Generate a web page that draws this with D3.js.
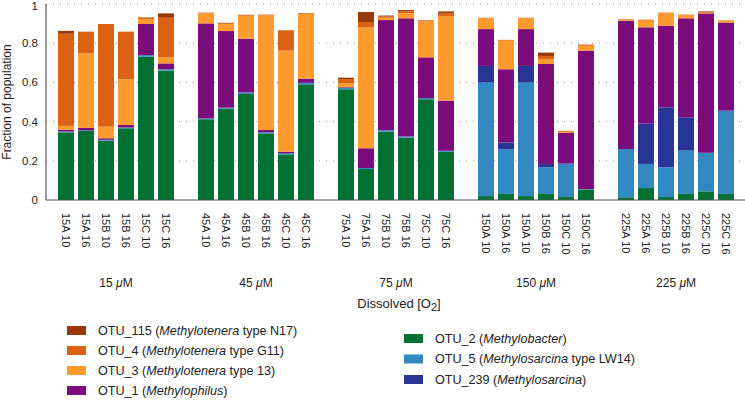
<!DOCTYPE html>
<html>
<head>
<meta charset="utf-8">
<script src="https://cdn.jsdelivr.net/npm/d3@7"></script>
<style>
  html, body { margin: 0; padding: 0; background: #fff; }
  svg { display: block; font-family: "Liberation Sans", Arial, Helvetica, sans-serif; }
</style>
</head>
<body>
<svg id="chart" width="745" height="400"></svg>
<script>
// ---------------- data ----------------
const categories = [
  "15A 10","15A 16","15B 10","15B 16","15C 10","15C 16",
  "45A 10","45A 16","45B 10","45B 16","45C 10","45C 16",
  "75A 10","75A 16","75B 10","75B 16","75C 10","75C 16",
  "150A 10","150A 16","150A 10","150B 16","150C 10","150C 16",
  "225A 10","225A 16","225B 10","225B 16","225C 10","225C 16"
];
const categoryGroup = [
  0,0,0,0,0,0, 1,1,1,1,1,1, 2,2,2,2,2,2, 3,3,3,3,3,3, 4,4,4,4,4,4
];
const groupNames = ["15", "45", "75", "150", "225"];

// stacked bottom -> top
const otu2   = [.345,.352,.303,.366,.731,.660, .412,.466,.541,.340,.233,.590, .565,.158,.349,.318,.514,.246, .020,.031,.020,.031,.015,.054, .014,.061,.015,.031,.044,.031];
const otu5   = [.005,.004,.004,.004,.008,.007, .005,.005,.008,.006,.006,.008, .008,.005,.007,.006,.006,.005, .579,.228,.579,.136,.169,.002, .246,.123,.152,.221,.197,.425];
const otu239 = [0,0,0,0,0,0, 0,0,0,0,0,0, 0,0,0,0,0,0, .085,.034,.085,.017,.002,0, 0,.207,.306,.170,0,0];
const otu1   = [.008,.012,.008,.013,.159,.030, .484,.391,.274,.011,.007,.021, .003,.101,.562,.603,.208,.256, .188,.374,.188,.510,.157,.706, .655,.490,.416,.505,.711,.449];
const otu3   = [.020,.380,.059,.233,.024,.031, .051,.036,.117,.585,.516,.330, .019,.617,.012,.025,.185,.432, .055,.146,.055,.024,.005,.025, .004,.034,.068,.015,.003,.010];
const otu4   = [.470,.111,.524,.243,.010,.202, .004,.004,.005,.004,.104,.004, .022,.027,.007,.010,.004,.013, .003,.004,.003,.017,.005,.006, .003,.005,0,.004,.004,.002];
const otu115 = [.015,0,0,0,0,.022, 0,.002,0,0,0,0, .007,.051,.004,.007,0,.010, 0,0,0,.017,0,0, 0,0,0,0,.003,0];

const seriesKeys   = ["otu2","otu5","otu239","otu1","otu3","otu4","otu115"];
const seriesValues = {otu2, otu5, otu239, otu1, otu3, otu4, otu115};
const seriesColors = {
  otu2: "#037133", otu5: "#3388c2", otu239: "#283593", otu1: "#7b0c7b",
  otu3: "#fe9a2e", otu4: "#dc6213", otu115: "#9a3808"
};
const legendLeft  = [
  {key:"otu115", pre:"OTU_115 (", it:"Methylotenera", post:" type N17)"},
  {key:"otu4",   pre:"OTU_4 (",   it:"Methylotenera", post:" type G11)"},
  {key:"otu3",   pre:"OTU_3 (",   it:"Methylotenera", post:" type 13)"},
  {key:"otu1",   pre:"OTU_1 (",   it:"Methylophilus", post:")"}
];
const legendRight = [
  {key:"otu2",   pre:"OTU_2 (",   it:"Methylobacter", post:")"},
  {key:"otu5",   pre:"OTU_5 (",   it:"Methylosarcina", post:" type LW14)"},
  {key:"otu239", pre:"OTU_239 (", it:"Methylosarcina", post:")"}
];
const yTicks = [0, 0.2, 0.4, 0.6, 0.8, 1];

// ---------------- layout ----------------
const svg = d3.select("#chart");
const axisX0 = 46, axisX1 = 745;

// slots: bars + one empty spacer slot between groups
const slots = [];
categories.forEach((c, i) => {
  if (i > 0 && categoryGroup[i] !== categoryGroup[i-1]) slots.push("gap" + categoryGroup[i]);
  slots.push("bar" + i);
});

const x = d3.scaleBand().domain(slots).range([56, 736]).paddingInner(0.2).paddingOuter(0.1);
const y = d3.scaleLinear().domain([0, 1]).range([200, 4]);

const table = categories.map((c, i) => {
  const row = {idx: i};
  seriesKeys.forEach(k => row[k] = seriesValues[k][i]);
  return row;
});
const stacked = d3.stack().keys(seriesKeys)(table);

// grid lines
svg.append("g").selectAll("line").data(yTicks.filter(t => t > 0)).join("line")
  .attr("x1", axisX0).attr("x2", axisX1)
  .attr("y1", d => y(d)).attr("y2", d => y(d))
  .attr("stroke", "#9a9a9a").attr("stroke-width", 1)
  .attr("stroke-dasharray", "1,6");

// bars
svg.append("g").selectAll("g").data(stacked).join("g")
  .attr("fill", d => seriesColors[d.key])
  .selectAll("rect").data(d => d).join("rect")
  .attr("x", d => x("bar" + d.data.idx))
  .attr("width", x.bandwidth())
  .attr("y", d => y(d[1]))
  .attr("height", d => Math.max(0, y(d[0]) - y(d[1])));

// axes lines
svg.append("line").attr("x1", axisX0).attr("x2", axisX1).attr("y1", y(0)).attr("y2", y(0))
  .attr("stroke", "#555").attr("stroke-width", 1.2);
svg.append("line").attr("x1", axisX0).attr("x2", axisX0).attr("y1", y(0)).attr("y2", y(1))
  .attr("stroke", "#555").attr("stroke-width", 1.2);

// y tick labels
svg.append("g").selectAll("text").data(yTicks).join("text")
  .attr("x", 38).attr("y", d => Math.max(y(d), 5.5)).attr("dy", "0.35em")
  .attr("text-anchor", "end").attr("font-size", 11.5).attr("fill", "#222")
  .text(d => d === 0 ? "0" : d === 1 ? "1" : d3.format(".1f")(d));

// y axis title
svg.append("text")
  .attr("transform", `translate(11,${y(0.5)}) rotate(-90)`)
  .attr("text-anchor", "middle").attr("font-size", 12).attr("fill", "#222")
  .text("Fraction of population");

// x tick labels (rotated)
svg.append("g").selectAll("text").data(categories).join("text")
  .attr("transform", (d, i) => `translate(${x("bar" + i) + x.bandwidth() / 2},213) rotate(90)`)
  .attr("dy", "0.35em").attr("text-anchor", "start")
  .attr("font-size", 11).attr("fill", "#222")
  .text(d => d);

// group labels
groupNames.forEach((g, gi) => {
  const idxs = categories.map((c, i) => i).filter(i => categoryGroup[i] === gi);
  const cx = (x("bar" + idxs[0]) + x("bar" + idxs[idxs.length - 1]) + x.bandwidth()) / 2;
  const t = svg.append("text").attr("x", cx).attr("y", 287)
    .attr("text-anchor", "middle").attr("font-size", 12).attr("fill", "#222");
  t.append("tspan").text(g + " ");
  t.append("tspan").attr("font-style", "italic").text("μ");
  t.append("tspan").text("M");
});

// x axis title
{
  const t = svg.append("text").attr("x", 399).attr("y", 308)
    .attr("text-anchor", "middle").attr("font-size", 13).attr("fill", "#222");
  t.append("tspan").text("Dissolved [O");
  t.append("tspan").attr("font-size", 11).attr("dy", 3).text("2");
  t.append("tspan").attr("dy", -3).text("]");
}

// legend
function drawLegend(items, sx, tx, y0, step) {
  const g = svg.append("g");
  items.forEach((it, i) => {
    const cy = y0 + i * step;
    g.append("rect").attr("x", sx).attr("y", cy - 4.5).attr("width", 19).attr("height", 9)
      .attr("fill", seriesColors[it.key]);
    const t = g.append("text").attr("x", tx).attr("y", cy).attr("dy", "0.35em")
      .attr("font-size", 12.6).attr("fill", "#222");
    t.append("tspan").text(it.pre);
    t.append("tspan").attr("font-style", "italic").text(it.it);
    t.append("tspan").text(it.post);
  });
}
drawLegend(legendLeft, 67, 98, 330.5, 20);
drawLegend(legendRight, 404, 435, 338.5, 20.5);
</script>
</body>
</html>
